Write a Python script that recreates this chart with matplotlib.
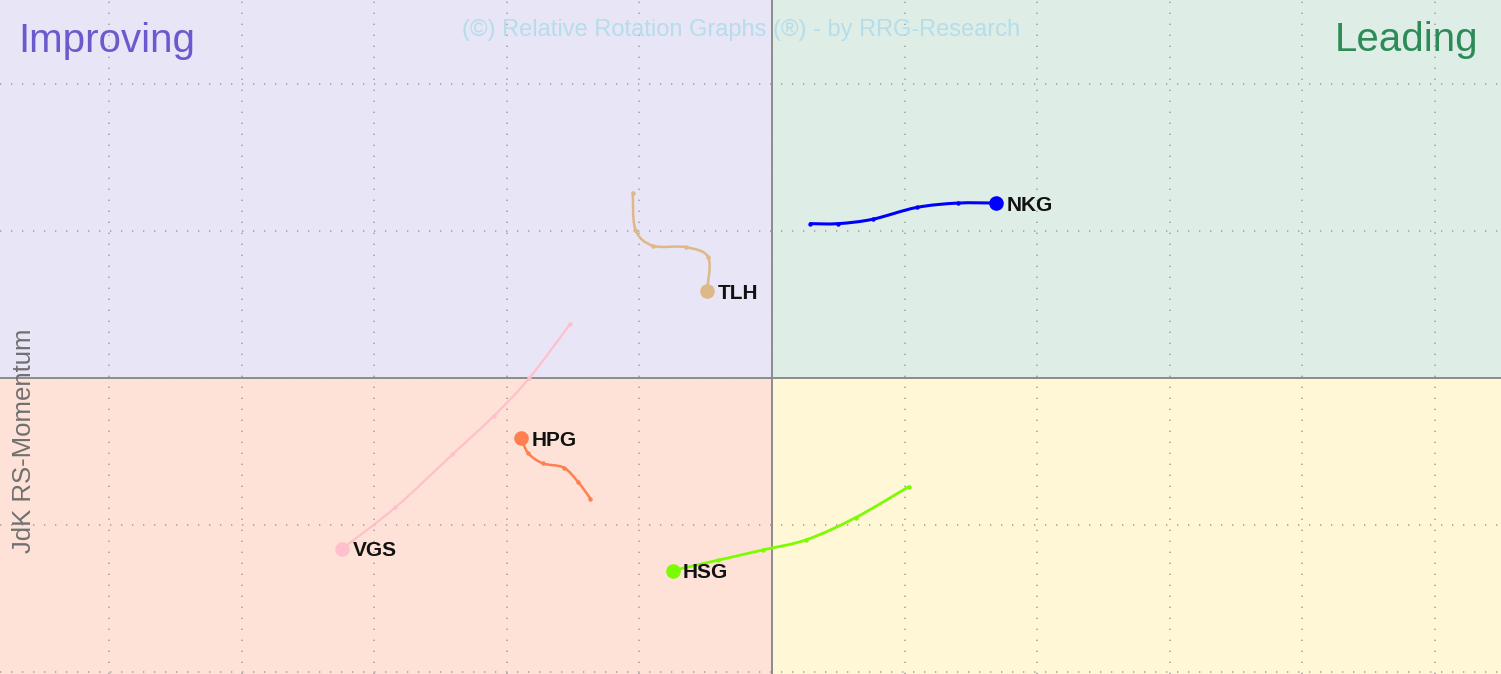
import numpy as np
import matplotlib
matplotlib.use("Agg")
from matplotlib import pyplot as plt
from matplotlib.path import Path
from matplotlib.patches import PathPatch, Rectangle

plt.rcParams["font.family"] = ["Liberation Sans", "DejaVu Sans"]

# tails: oldest point first, last point = current position (head)
names = ["NKG", "TLH", "VGS", "HPG", "HSG"]
colors = ["#0000FF", "#DEB887", "#FFC0CB", "#FF7F50", "#7CFC00"]
rs_ratio = {
    "NKG": [100.29, 100.50, 100.76, 101.09, 101.40, 101.69],
    "TLH": [98.95, 98.97, 99.10, 99.35, 99.52, 99.51],
    "VGS": [98.48, 98.17, 97.90, 97.59, 97.16, 96.76],
    "HPG": [98.63, 98.54, 98.43, 98.27, 98.16, 98.11],
    "HSG": [101.03, 100.63, 100.26, 99.93, 99.59, 99.25],
}
rs_momentum = {
    "NKG": [101.05, 101.05, 101.08, 101.16, 101.19, 101.19],
    "TLH": [101.26, 101.01, 100.90, 100.89, 100.82, 100.59],
    "VGS": [100.37, 100.00, 99.74, 99.48, 99.12, 98.84],
    "HPG": [99.18, 99.29, 99.39, 99.42, 99.49, 99.59],
    "HSG": [99.26, 99.05, 98.90, 98.83, 98.76, 98.69],
}
line_widths = {"NKG": 2.2, "TLH": 1.8, "VGS": 1.6, "HPG": 1.8, "HSG": 2.0}

W, H = 1501, 674
fig = plt.figure(figsize=(W / 100, H / 100), dpi=100)
ax = fig.add_axes([0, 0, 1, 1])

# 132.6 px per unit in x, 147 px per unit in y, centre at pixel (772, 378)
ax.set_xlim(100 - 772 / 132.6, 100 + (W - 772) / 132.6)
ax.set_ylim(100 - (H - 378) / 147.0, 100 + 378 / 147.0)

# quadrant backgrounds
quads = [(90, 100, 100, 110, "#E7E5F6"),   # improving
         (100, 100, 110, 110, "#DEEEE6"),  # leading
         (90, 90, 100, 100, "#FEE2D8"),    # lagging
         (100, 90, 110, 100, "#FFF7D6")]   # weakening
for x0, y0, x1, y1, c in quads:
    ax.add_patch(Rectangle((x0, y0), x1 - x0, y1 - y0, color=c, zorder=0.2, lw=0))

ax.set_xticks(np.arange(95, 106, 1))
ax.set_yticks(np.arange(98, 103, 1))
ax.set_axisbelow(True)
ax.grid(True, color="#a3a3a3", lw=1.2, linestyle=(0, (0.8, 5.8)))
ax.tick_params(length=0, labelbottom=False, labelleft=False)
for s in ax.spines.values():
    s.set_visible(False)

ax.axvline(100, color="#8c8c8c", lw=1.4, zorder=1)
ax.axhline(100, color="#8c8c8c", lw=1.4, zorder=1)


def smooth_path(xs, ys):
    pts = np.column_stack([xs, ys])
    verts = [pts[0]]
    codes = [Path.MOVETO]
    n = len(pts)
    for i in range(n - 1):
        p0 = pts[max(i - 1, 0)]
        p1 = pts[i]
        p2 = pts[i + 1]
        p3 = pts[min(i + 2, n - 1)]
        c1 = p1 + (p2 - p0) / 6.0
        c2 = p2 - (p3 - p1) / 6.0
        verts += [c1, c2, p2]
        codes += [Path.CURVE4] * 3
    return Path(verts, codes)


for name, c in zip(names, colors):
    xs = rs_ratio[name]
    ys = rs_momentum[name]
    ax.add_patch(PathPatch(smooth_path(xs, ys), fill=False, edgecolor=c,
                           lw=line_widths[name], zorder=3, capstyle="round"))
    ax.plot(xs[:-1], ys[:-1], "o", color=c, ms=3.2, zorder=4, mec="none")
    ax.plot(xs[-1], ys[-1], "o", color=c, ms=10.5, zorder=5, mec="none")
    ax.annotate(name, (xs[-1], ys[-1]), xytext=(7.5, -1.5), textcoords="offset points",
                va="center", ha="left", fontsize=15, fontweight="bold",
                color="#111111", zorder=6)

ax.text(18 / W, 1 - 52 / H, "Improving", transform=ax.transAxes, fontsize=29,
        color="#6A5ACD", ha="left", va="baseline")
ax.text(1478 / W, 1 - 51 / H, "Leading", transform=ax.transAxes, fontsize=29,
        color="#2E8B57", ha="right", va="baseline")
ax.text(741 / W, 1 - 36 / H, "(©) Relative Rotation Graphs (®) - by RRG-Research",
        transform=ax.transAxes, fontsize=17, color="#B5DDEA", ha="center", va="baseline")
ax.text(24 / W, 1 - 441 / H, "JdK RS-Momentum", transform=ax.transAxes, fontsize=18.5,
        color="#707070", rotation=90, ha="center", va="center")

plt.savefig("out.png", dpi=100)
